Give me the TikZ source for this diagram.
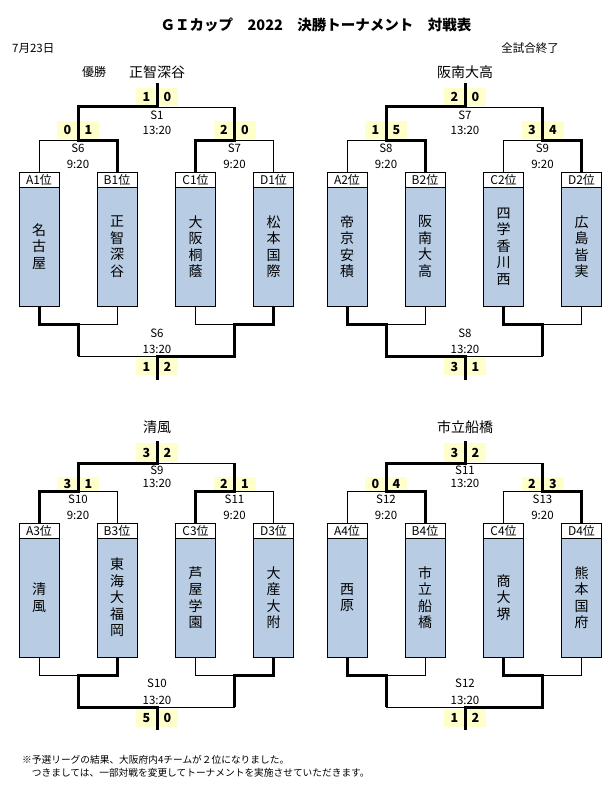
\documentclass[tikz,border=0pt]{standalone}
\usepackage{fontspec}
\setmainfont{Noto Sans CJK JP}
\definecolor{teamblue}{RGB}{184,204,228}
\definecolor{scorebg}{RGB}{255,255,204}
\tikzset{
  hdr/.style={draw,fill=white,minimum width=40pt,minimum height=15pt,inner sep=0pt,font=\fontsize{12}{12}\selectfont},
  team/.style={draw,fill=teamblue,minimum width=40pt,minimum height=119pt,inner sep=0pt,align=center,font=\fontsize{14}{16.5}\selectfont},
  pts/.style={fill=scorebg,minimum width=21pt,inner sep=0pt,font=\fontsize{12.5}{13}\selectfont\bfseries},
  info/.style={inner sep=0pt,font=\fontsize{11.5}{12}\selectfont},
  champ/.style={inner sep=0pt,font=\fontsize{14}{15}\selectfont},
  win/.style={line width=3pt},
  lose/.style={line width=0.9pt},
}
\begin{document}
\begin{tikzpicture}[x=1pt,y=-1pt]
\useasboundingbox (0,0) rectangle (609,789);
\node[font=\fontsize{14.5}{16}\selectfont\bfseries] (title) at (316,25) {ＧＩカップ　2022　決勝トーナメント　対戦表};
\node[info,anchor=west] (date) at (12,48) {7月23日};
\node[info,anchor=east] (done) at (559,48) {全試合終了};

% top left
\node[inner sep=0pt,font=\fontsize{12}{13}\selectfont] (yusho) at (94,72) {優勝};
\node[champ] (w1) at (157,72) {正智深谷};
\foreach \k/\x/\name in {A/39/{名\\古\\屋},B/117/{正\\智\\深\\谷},C/195.5/{大\\阪\\桐\\蔭},D/273.5/{松\\本\\国\\際}}{
  \node[hdr] (h\k1) at (\x,179.5) {\k1位};
  \node[team] (t\k1) at (\x,246.5) {\name};
}
\node[pts,minimum height=18pt] (p1a) at (146.5,97) {1};
\node[pts,minimum height=18pt] (p1b) at (167.5,97) {0};
\node[pts,minimum height=18pt] (p6a) at (67.5,130) {0};
\node[pts,minimum height=18pt] (p6b) at (88.5,130) {1};
\node[pts,minimum height=18pt] (p7a) at (224,130) {2};
\node[pts,minimum height=18pt] (p7b) at (245,130) {0};
\node[pts,minimum height=17pt] (p6c) at (146.5,366.5) {1};
\node[pts,minimum height=17pt] (p6d) at (167.5,366.5) {2};
\node[info] (n1) at (157,115) {S1};
\node[info] (n1t) at (157,130) {13:20};
\node[info] (n6) at (78,148) {S6};
\node[info] (n6t) at (78,164) {9:20};
\node[info] (n7) at (234.5,148) {S7};
\node[info] (n7t) at (234.5,164) {9:20};
\node[info] (n6b) at (157,333) {S6};
\node[info] (n6bt) at (157,349) {13:20};
\coordinate (q1top) at (157,83);
\coordinate (q1f) at (157,107);
\coordinate (q1fl) at (78,107);
\coordinate (q1fr) at (234.5,107);
\coordinate (q1sl) at (78,140);
\coordinate (q1sr) at (234.5,140);
\coordinate (q1bl) at (78,324);
\coordinate (q1br) at (234.5,324);
\coordinate (q1bll) at (78,356);
\coordinate (q1bm) at (157,356);
\coordinate (q1brr) at (234.5,356);
\coordinate (q1bot) at (157,380);
\draw[lose] (hA1.north) |- (q1sl);
\draw[win] (hB1.north) |- (q1sl) -- (q1fl) -- (q1f) -- (q1top);
\draw[lose] (hD1.north) |- (q1sr);
\draw[win] (hC1.north) |- (q1sr) -- (q1fr);
\draw[lose] (q1fr) -- (q1f);
\draw[lose] (tB1.south) |- (q1bl);
\draw[win] (tA1.south) |- (q1bl) -- (q1bll);
\draw[lose] (tC1.south) |- (q1br);
\draw[win] (tD1.south) |- (q1br) -- (q1brr) -- (q1bm) -- (q1bot);
\draw[lose] (q1bll) -- (q1bm);

% top right
\begin{scope}[xshift=308pt]
\node[champ] (w2) at (157,72) {阪南大高};
\foreach \k/\x/\name in {A/39/{帝\\京\\安\\積},B/117/{阪\\南\\大\\高},C/195.5/{四\\学\\香\\川\\西},D/273.5/{広\\島\\皆\\実}}{
  \node[hdr] (h\k2) at (\x,179.5) {\k2位};
  \node[team] (t\k2) at (\x,246.5) {\name};
}
\node[pts,minimum height=18pt] (p7c) at (146.5,97) {2};
\node[pts,minimum height=18pt] (p7d) at (167.5,97) {0};
\node[pts,minimum height=18pt] (p8a) at (67.5,130) {1};
\node[pts,minimum height=18pt] (p8b) at (88.5,130) {5};
\node[pts,minimum height=18pt] (p9a) at (224,130) {3};
\node[pts,minimum height=18pt] (p9b) at (245,130) {4};
\node[pts,minimum height=17pt] (p8c) at (146.5,366.5) {3};
\node[pts,minimum height=17pt] (p8d) at (167.5,366.5) {1};
\node[info] (n7b) at (157,115) {S7};
\node[info] (n7bt) at (157,130) {13:20};
\node[info] (n8) at (78,148) {S8};
\node[info] (n8t) at (78,164) {9:20};
\node[info] (n9) at (234.5,148) {S9};
\node[info] (n9t) at (234.5,164) {9:20};
\node[info] (n8b) at (157,333) {S8};
\node[info] (n8bt) at (157,349) {13:20};
\coordinate (q2top) at (157,83);
\coordinate (q2f) at (157,107);
\coordinate (q2fl) at (78,107);
\coordinate (q2fr) at (234.5,107);
\coordinate (q2sl) at (78,140);
\coordinate (q2sr) at (234.5,140);
\coordinate (q2bl) at (78,324);
\coordinate (q2br) at (234.5,324);
\coordinate (q2bll) at (78,356);
\coordinate (q2bm) at (157,356);
\coordinate (q2brr) at (234.5,356);
\coordinate (q2bot) at (157,380);
\draw[lose] (hA2.north) |- (q2sl);
\draw[win] (hB2.north) |- (q2sl) -- (q2fl) -- (q2f) -- (q2top);
\draw[lose] (hC2.north) |- (q2sr);
\draw[win] (hD2.north) |- (q2sr) -- (q2fr);
\draw[lose] (q2fr) -- (q2f);
\draw[lose] (tB2.south) |- (q2bl);
\draw[win] (tA2.south) |- (q2bl) -- (q2bll) -- (q2bm) -- (q2bot);
\draw[lose] (tD2.south) |- (q2br);
\draw[win] (tC2.south) |- (q2br) -- (q2brr);
\draw[lose] (q2brr) -- (q2bm);
\end{scope}

% bottom left
\node[champ] (w3) at (157,427) {清風};
\foreach \k/\x/\name in {A/39/{清\\風},B/117/{東\\海\\大\\福\\岡},C/195.5/{芦\\屋\\学\\園},D/273.5/{大\\産\\大\\附}}{
  \node[hdr] (h\k3) at (\x,530.5) {\k3位};
  \node[team] (t\k3) at (\x,597.5) {\name};
}
\node[pts,minimum height=19pt] (p9c) at (146.5,452.5) {3};
\node[pts,minimum height=19pt] (p9d) at (167.5,452.5) {2};
\node[pts,minimum height=14pt] (p10a) at (67.5,484) {3};
\node[pts,minimum height=14pt] (p10b) at (88.5,484) {1};
\node[pts,minimum height=14pt] (p11a) at (224,484) {2};
\node[pts,minimum height=14pt] (p11b) at (245,484) {1};
\node[pts,minimum height=18pt] (p10c) at (146.5,718) {5};
\node[pts,minimum height=18pt] (p10d) at (167.5,718) {0};
\node[info] (n9b) at (157,470) {S9};
\node[info] (n9bt) at (157,483) {13:20};
\node[info] (n10) at (78,499) {S10};
\node[info] (n10t) at (78,515) {9:20};
\node[info] (n11) at (234.5,499) {S11};
\node[info] (n11t) at (234.5,515) {9:20};
\node[info] (n10b) at (157,683) {S10};
\node[info] (n10bt) at (157,700) {13:20};
\coordinate (q3top) at (157,441);
\coordinate (q3f) at (157,463);
\coordinate (q3fl) at (78,463);
\coordinate (q3fr) at (234.5,463);
\coordinate (q3sl) at (78,491);
\coordinate (q3sr) at (234.5,491);
\coordinate (q3bl) at (78,675);
\coordinate (q3br) at (234.5,675);
\coordinate (q3bll) at (78,707);
\coordinate (q3bm) at (157,707);
\coordinate (q3brr) at (234.5,707);
\coordinate (q3bot) at (157,730);
\draw[lose] (hB3.north) |- (q3sl);
\draw[win] (hA3.north) |- (q3sl) -- (q3fl) -- (q3f) -- (q3top);
\draw[lose] (hD3.north) |- (q3sr);
\draw[win] (hC3.north) |- (q3sr) -- (q3fr);
\draw[lose] (q3fr) -- (q3f);
\draw[lose] (tA3.south) |- (q3bl);
\draw[win] (tB3.south) |- (q3bl) -- (q3bll) -- (q3bm) -- (q3bot);
\draw[lose] (tC3.south) |- (q3br);
\draw[win] (tD3.south) |- (q3br) -- (q3brr);
\draw[lose] (q3brr) -- (q3bm);

% bottom right
\begin{scope}[xshift=308pt]
\node[champ] (w4) at (157,427) {市立船橋};
\foreach \k/\x/\name in {A/39/{西\\原},B/117/{市\\立\\船\\橋},C/195.5/{商\\大\\堺},D/273.5/{熊\\本\\国\\府}}{
  \node[hdr] (h\k4) at (\x,530.5) {\k4位};
  \node[team] (t\k4) at (\x,597.5) {\name};
}
\node[pts,minimum height=19pt] (p11c) at (146.5,452.5) {3};
\node[pts,minimum height=19pt] (p11d) at (167.5,452.5) {2};
\node[pts,minimum height=14pt] (p12a) at (67.5,484) {0};
\node[pts,minimum height=14pt] (p12b) at (88.5,484) {4};
\node[pts,minimum height=14pt] (p13a) at (224,484) {2};
\node[pts,minimum height=14pt] (p13b) at (245,484) {3};
\node[pts,minimum height=18pt] (p12c) at (146.5,718) {1};
\node[pts,minimum height=18pt] (p12d) at (167.5,718) {2};
\node[info] (n11b) at (157,470) {S11};
\node[info] (n11bt) at (157,483) {13:20};
\node[info] (n12) at (78,499) {S12};
\node[info] (n12t) at (78,515) {9:20};
\node[info] (n13) at (234.5,499) {S13};
\node[info] (n13t) at (234.5,515) {9:20};
\node[info] (n12b) at (157,683) {S12};
\node[info] (n12bt) at (157,700) {13:20};
\coordinate (q4top) at (157,441);
\coordinate (q4f) at (157,463);
\coordinate (q4fl) at (78,463);
\coordinate (q4fr) at (234.5,463);
\coordinate (q4sl) at (78,491);
\coordinate (q4sr) at (234.5,491);
\coordinate (q4bl) at (78,675);
\coordinate (q4br) at (234.5,675);
\coordinate (q4bll) at (78,707);
\coordinate (q4bm) at (157,707);
\coordinate (q4brr) at (234.5,707);
\coordinate (q4bot) at (157,730);
\draw[lose] (hA4.north) |- (q4sl);
\draw[win] (hB4.north) |- (q4sl) -- (q4fl) -- (q4f) -- (q4top);
\draw[lose] (hC4.north) |- (q4sr);
\draw[win] (hD4.north) |- (q4sr) -- (q4fr);
\draw[lose] (q4fr) -- (q4f);
\draw[lose] (tB4.south) |- (q4bl);
\draw[win] (tA4.south) |- (q4bl) -- (q4bll);
\draw[lose] (tD4.south) |- (q4br);
\draw[win] (tC4.south) |- (q4br) -- (q4brr) -- (q4bm) -- (q4bot);
\draw[lose] (q4bll) -- (q4bm);
\end{scope}

\node[anchor=west,inner sep=0pt,font=\fontsize{9.7}{11}\selectfont] (note1) at (22,760) {※予選リーグの結果、大阪府内4チームが２位になりました。};
\node[anchor=west,inner sep=0pt,font=\fontsize{9.7}{11}\selectfont] (note2) at (22,773) {　つきましては、一部対戦を変更してトーナメントを実施させていただきます。};
\end{tikzpicture}
\end{document}
